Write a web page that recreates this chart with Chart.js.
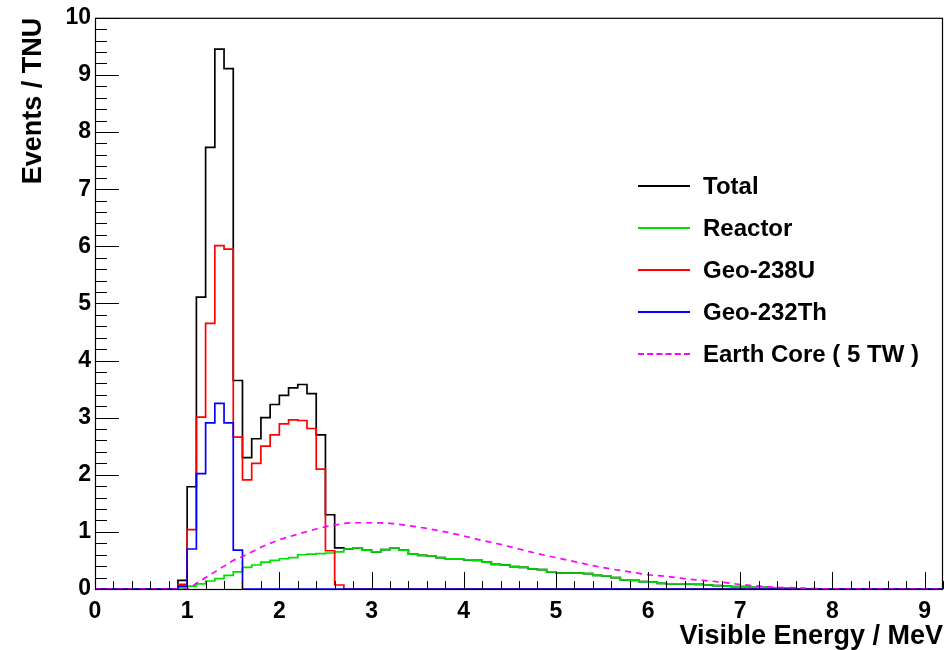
<!DOCTYPE html>
<html>
<head>
<meta charset="utf-8">
<script src="https://cdn.jsdelivr.net/npm/chart.js@4/dist/chart.umd.min.js"></script>
<style>
  html, body { margin: 0; padding: 0; background: #fff; }
  #wrap { position: relative; width: 951px; height: 650px; }
  #legend { position: absolute; left: 0; top: 0; font-family: "Liberation Sans", Arial, sans-serif; font-weight: bold; font-size: 24px; color: #000; }
  .row { position: absolute; height: 0; }
  .swatch { position: absolute; left: 638px; width: 52px; height: 0; }
  .lbl { position: absolute; left: 703px; white-space: nowrap; transform: translateY(-50%); }
</style>
</head>
<body>
<div id="wrap">
  <canvas id="c" width="951" height="650"></canvas>
  <div id="legend"></div>
</div>
<script>
// ---- data ----
// lower edges of the 0.1 MeV histogram bins (MeV)
const binLowEdges = [0.9,1.0,1.1,1.2,1.3,1.4,1.5,1.6,1.7,1.8,1.9,2.0,2.1,2.2,2.3,2.4,2.5,2.6,2.7,2.8,2.9,3.0,3.1,3.2,3.3,3.4,3.5,3.6,3.7,3.8,3.9,4.0,4.1,4.2,4.3,4.4,4.5,4.6,4.7,4.8,4.9,5.0,5.1,5.2,5.3,5.4,5.5,5.6,5.7,5.8,5.9,6.0,6.1,6.2,6.3,6.4,6.5,6.6,6.7,6.8,6.9,7.0,7.1,7.2,7.3,7.4,7.5];
const binWidth = 0.1;

const totalEvents = [0.15,1.79,5.11,7.73,9.45,9.11,3.65,2.30,2.63,3.00,3.23,3.39,3.52,3.58,3.42,2.70,1.30,0.72,0.70,0.72,0.68,0.65,0.69,0.72,0.68,0.61,0.59,0.58,0.55,0.53,0.53,0.51,0.50,0.47,0.43,0.42,0.39,0.38,0.35,0.34,0.30,0.28,0.28,0.28,0.27,0.24,0.23,0.20,0.16,0.15,0.13,0.12,0.10,0.09,0.09,0.09,0.08,0.07,0.06,0.05,0.04,0.04,0.03,0.03,0.02,0.01,0.01];
const reactorEvents = [0.02,0.05,0.09,0.14,0.18,0.24,0.30,0.38,0.42,0.47,0.50,0.53,0.55,0.60,0.61,0.62,0.63,0.65,0.70,0.72,0.68,0.65,0.69,0.72,0.68,0.61,0.59,0.58,0.55,0.53,0.53,0.51,0.50,0.47,0.43,0.42,0.39,0.38,0.35,0.34,0.30,0.28,0.28,0.28,0.27,0.24,0.23,0.20,0.16,0.15,0.13,0.12,0.10,0.09,0.09,0.09,0.08,0.07,0.06,0.05,0.04,0.04,0.03,0.03,0.02,0.01,0.01];
const geoU238Events = [0.08,1.04,3.01,4.65,6.01,5.95,2.66,1.91,2.20,2.50,2.70,2.89,2.96,2.95,2.81,2.10,0.67,0.07];
const geoTh232Events = [0.05,0.70,2.02,2.91,3.25,2.91,0.68];

// Earth core (5 TW) smooth spectrum, sampled points
const coreEnergy = [0,1.0,1.1,1.2,1.3,1.4,1.5,1.6,1.8,2.0,2.2,2.4,2.6,2.8,3.0,3.2,3.4,3.6,3.8,4.0,4.2,4.4,4.6,4.8,5.0,5.2,5.4,5.6,5.8,6.0,6.2,6.4,6.6,6.8,7.0,7.2,7.4,7.6,7.8,8.0,9.2];
const coreEvents = [0,0,0.10,0.20,0.30,0.40,0.50,0.57,0.73,0.86,0.96,1.05,1.12,1.16,1.16,1.15,1.11,1.06,1.00,0.93,0.85,0.78,0.70,0.62,0.55,0.48,0.41,0.35,0.30,0.25,0.22,0.18,0.15,0.12,0.08,0.05,0.03,0.02,0.01,0,0];

const xTickValues = [0,1,2,3,4,5,6,7,8,9];
const yTickValues = [0,1,2,3,4,5,6,7,8,9,10];
const seriesNames = ["Total","Reactor","Geo-238U","Geo-232Th","Earth Core ( 5 TW )"];

const X_MIN = 0, X_MAX = 9.2, Y_MIN = 0, Y_MAX = 10;

// histogram -> step points
function histPoints(vals) {
  const pts = [{x: X_MIN, y: 0}];
  let lastEdge = X_MIN;
  vals.forEach((v, i) => {
    pts.push({x: binLowEdges[i], y: v});
    lastEdge = binLowEdges[i] + binWidth;
  });
  pts.push({x: lastEdge, y: 0});
  pts.push({x: X_MAX, y: 0});
  return pts;
}

const colors = ["#000000", "#00e000", "#ff0000", "#0000ff", "#ff00ff"];
const FONT = "'Liberation Sans', Arial, Helvetica, sans-serif";

const frameTicks = {
  id: 'frameTicks',
  afterDatasetsDraw(chart) {
    const {ctx, chartArea: a, scales} = chart;
    ctx.save();
    ctx.strokeStyle = '#000';
    ctx.lineWidth = 1;
    ctx.beginPath();
    // x ticks (inward)
    for (let k = 0; k <= 46; k++) {
      const v = k * 0.2;
      if (v > X_MAX + 1e-9) break;
      const px = Math.round(scales.x.getPixelForValue(v)) + 0.5;
      const major = (k % 5 === 0);
      ctx.moveTo(px, a.bottom);
      ctx.lineTo(px, a.bottom - (major ? 17 : 8));
    }
    // y ticks (inward)
    for (let k = 0; k <= 50; k++) {
      const v = k * 0.2;
      const py = Math.round(scales.y.getPixelForValue(v)) + 0.5;
      const major = (k % 5 === 0);
      ctx.moveTo(a.left, py);
      ctx.lineTo(a.left + (major ? 24 : 12), py);
    }
    ctx.stroke();
    ctx.lineWidth = 1.2;
    ctx.strokeRect(a.left + 0.5, a.top + 0.5, a.right - a.left - 1, a.bottom - a.top);
    ctx.restore();
  }
};

const datasets = [
  {label: seriesNames[0], data: histPoints(totalEvents), borderColor: colors[0], order: 5},
  {label: seriesNames[1], data: histPoints(reactorEvents), borderColor: colors[1], order: 4},
  {label: seriesNames[2], data: histPoints(geoU238Events), borderColor: colors[2], order: 3},
  {label: seriesNames[3], data: histPoints(geoTh232Events), borderColor: colors[3], order: 2},
  {label: seriesNames[4], data: coreEnergy.map((e, i) => ({x: e, y: coreEvents[i]})), borderColor: colors[4], order: 1,
   stepped: false, borderDash: [6, 5], cubicInterpolationMode: 'monotone'}
].map(d => Object.assign({stepped: 'before', borderWidth: 1.7, pointRadius: 0, fill: false}, d));

new Chart(document.getElementById('c'), {
  type: 'line',
  data: {datasets},
  options: {
    responsive: false,
    animation: false,
    events: [],
    layout: {padding: {left: 0, top: 15, right: 8, bottom: 0}},
    plugins: {legend: {display: false}, tooltip: {enabled: false}},
    scales: {
      x: {
        type: 'linear', min: X_MIN, max: X_MAX,
        afterFit: s => { s.height = 61; },
        afterBuildTicks: s => { s.ticks = xTickValues.map(v => ({value: v})); },
        grid: {display: false, drawTicks: false}, border: {display: false},
        ticks: {color: '#000', padding: 9, font: {family: FONT, size: 23, weight: 'bold'}, maxRotation: 0, autoSkip: false},
        title: {display: true, text: 'Visible Energy / MeV', align: 'end', color: '#000', padding: {top: 0, bottom: 0}, font: {family: FONT, size: 27, weight: 'bold', lineHeight: 1.0}}
      },
      y: {
        type: 'linear', min: Y_MIN, max: Y_MAX,
        afterFit: s => { s.width = 95; },
        afterBuildTicks: s => { s.ticks = yTickValues.map(v => ({value: v})); },
        grid: {display: false, drawTicks: false}, border: {display: false},
        ticks: {color: '#000', padding: 4, font: {family: FONT, size: 23, weight: 'bold'}, autoSkip: false},
        title: {display: true, text: 'Events / TNU', align: 'end', color: '#000', padding: {top: 17, bottom: 0}, font: {family: FONT, size: 27, weight: 'bold'}}
      }
    }
  },
  plugins: [frameTicks]
});

// legend (HTML, real text)
const legendRowsY = [186, 228, 270, 312, 354];
const leg = document.getElementById('legend');
seriesNames.forEach((name, i) => {
  const row = document.createElement('div');
  row.className = 'row';
  row.style.top = legendRowsY[i] + 'px';
  const sw = document.createElement('div');
  sw.className = 'swatch';
  sw.style.borderTop = '2px ' + (i === 4 ? 'dashed ' : 'solid ') + colors[i];
  sw.style.top = '-1px';
  const t = document.createElement('div');
  t.className = 'lbl';
  t.textContent = name;
  row.appendChild(sw); row.appendChild(t);
  leg.appendChild(row);
});
</script>
</body>
</html>
